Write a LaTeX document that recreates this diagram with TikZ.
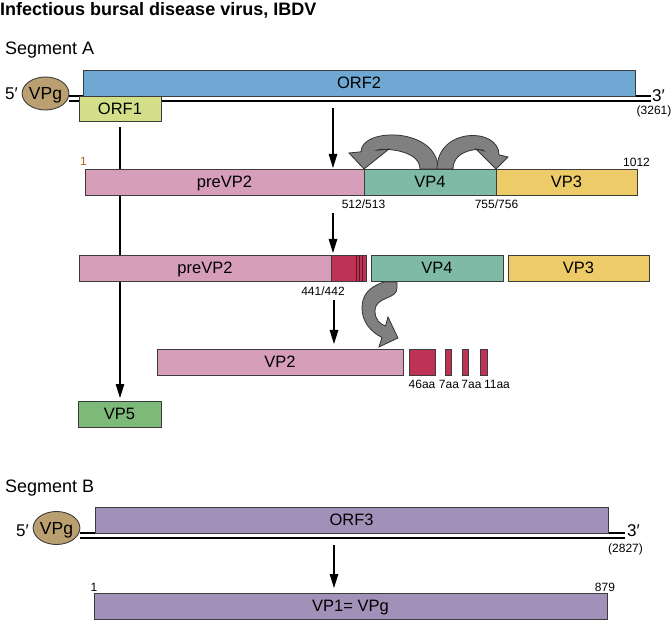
\documentclass[tikz,border=0pt]{standalone}
\usepackage{fontspec}
\setmainfont{Liberation Sans}
\usetikzlibrary{arrows.meta,shapes.geometric}
\definecolor{cOrfTwo}{HTML}{6FA8D2}
\definecolor{cOrfOne}{HTML}{D4DF8A}
\definecolor{cPink}{HTML}{D69EB9}
\definecolor{cTeal}{HTML}{7EBAA6}
\definecolor{cYellow}{HTML}{ECCB68}
\definecolor{cRed}{HTML}{BE3255}
\definecolor{cDarkRed}{HTML}{5A1426}
\definecolor{cGreen}{HTML}{7DB978}
\definecolor{cPurple}{HTML}{A191B8}
\definecolor{cTan}{HTML}{BAA070}
\definecolor{cEdge}{HTML}{3C3C3C}
\definecolor{cFat}{HTML}{808080}
\definecolor{cFatEdge}{HTML}{333333}
\definecolor{cOrange}{HTML}{B8650F}
\begin{document}
\begin{tikzpicture}[x=1pt,y=-1pt,
  box/.style={draw=cEdge, line width=0.9pt, inner sep=0pt, outer sep=0pt, anchor=north west,
    font=\fontsize{16.5}{18}\selectfont, text height=11.8pt, text depth=0pt},
  vpg/.style={ellipse, draw=cEdge, line width=0.9pt, fill=cTan, inner sep=0pt, outer sep=0pt,
    minimum width=41pt, minimum height=33pt, font=\fontsize{17.5}{19}\selectfont,
    text height=12.5pt, text depth=0pt},
  small/.style={inner sep=0pt, font=\fontsize{12}{14}\selectfont, anchor=base},
  prime/.style={inner sep=0pt, font=\fontsize{17}{19}\selectfont, anchor=base west},
  head/.style={inner sep=0pt, font=\fontsize{18}{20}\selectfont, anchor=base west},
  arr/.style={draw=black, line width=1.1pt, -{Triangle[length=14pt,width=8.5pt]}},
  rna/.style={draw=black, line width=2pt},
  fat/.style={draw=cFatEdge, line width=0.8pt, fill=cFat, line join=miter},
  stripe/.style={draw=cDarkRed, line width=0.9pt},
]
\useasboundingbox (0,0) rectangle (672,620);

% headings
\node[head, font=\bfseries\fontsize{18}{20}\selectfont] (title) at (0,16) {Infectious bursal disease virus, IBDV};
\node[head] (segA) at (5,55) {Segment A};
\node[head] (segB) at (5,492) {Segment B};

% ---------- Segment A ----------
\node[prime] (fiveA) at (5,100) {5′};
\node[vpg] (vpgA) at (45.5,93.5) {VPg};
\coordinate (endA1) at (651,96);
\coordinate (endA2) at (651,101);
\draw[rna] (vpgA.east |- endA1) -- (endA1);
\draw[rna] (vpgA.east |- endA2) -- (endA2);
\node[prime] (threeA) at (652,102) {3′};
\node[small] (lenA) at (654,115) {(3261)};

\node[box, fill=cOrfTwo, minimum width=552pt, minimum height=26pt] (orf2) at (83,70) {ORF2};
\node[box, fill=cOrfOne, minimum width=82pt, minimum height=25pt] (orf1) at (79,96) {ORF1};

\node[box, fill=cGreen, minimum width=83pt, minimum height=26pt] (vp5) at (78,401) {VP5};
\draw[arr, shorten <=6pt, shorten >=3pt] (orf1.south) -- (orf1.south |- vp5.north);

% row 2 (polyprotein)
\node[box, fill=cPink, minimum width=279pt, minimum height=26pt] (prevpA) at (85,169) {preVP2};
\node[box, fill=cTeal, minimum width=132pt, minimum height=26pt] (vpfourA) at (364,169) {VP4};
\node[box, fill=cYellow, minimum width=141pt, minimum height=26pt] (vpthreeA) at (496,169) {VP3};
\node[small, text=cOrange] (oneA) at (83.5,166) {1};
\node[small] (endnA) at (636.5,167) {1012};
\node[small] (cutA) at (363.5,209) {512/513};
\node[small] (cutB) at (496.5,209) {755/756};

\coordinate (cA) at (333,96);
\draw[arr, shorten <=12pt, shorten >=1pt] (cA) -- (cA |- prevpA.north);

% self-cleavage arrows of VP4
\draw[fat] (438,169) .. controls (438,127) and (361,127) .. (361,151.8)
  -- (349,153) -- (364,169) -- (389,149) -- (377,150.3)
  .. controls (377,148) and (420,148) .. (420,169) -- cycle;
\draw[fat] (437,169) .. controls (437,127) and (499,127) .. (499,154.8)
  -- (508,157) -- (496,169) -- (476,149) -- (484,150.9)
  .. controls (484,148) and (453,148) .. (453,169) -- cycle;

% row 3
\node[box, fill=cPink, minimum width=252pt, minimum height=26pt] (prevpB) at (79,255) {preVP2};
\node[box, fill=cRed, minimum width=35pt, minimum height=26pt] (redb) at (331,255) {};
\foreach \s in {25.5,28.5,31.5}
  \draw[stripe] ([xshift=\s pt]redb.north west) -- ([xshift=\s pt]redb.south west);
\node[box, fill=cTeal, minimum width=132pt, minimum height=26pt] (vpfourB) at (371,255) {VP4};
\node[box, fill=cYellow, minimum width=141pt, minimum height=26pt] (vpthreeB) at (508,255) {VP3};
\node[small] (cutC) at (323,296) {441/442};
\draw[arr, shorten <=18pt, shorten >=2pt] (cA |- prevpA.south) -- (cA |- prevpB.north);

% row 4
\node[box, fill=cPink, minimum width=246pt, minimum height=26pt] (vp2) at (157,349) {VP2};
\node[box, fill=cRed, minimum width=26pt, minimum height=26pt] (pa) at (409,349) {};
\node[box, fill=cRed, minimum width=6pt, minimum height=26pt] (pb) at (445,349) {};
\node[box, fill=cRed, minimum width=6pt, minimum height=26pt] (pc) at (462,349) {};
\node[box, fill=cRed, minimum width=7pt, minimum height=26pt] (pd) at (480,349) {};
\node[small] (la) at (422,388) {46aa};
\node[small] (lb) at (449,388) {7aa};
\node[small] (lc) at (471.5,388) {7aa};
\node[small] (ld) at (497,388) {11aa};
\coordinate (cA3) at (334,281);
\draw[arr, shorten <=19pt, shorten >=5pt] (cA3) -- (cA3 |- vp2.north);

% VP4 trans-cleavage arrow
\draw[fat] (384,282) -- (397,282) -- (397,288)
  .. controls (397,300) and (375,296) .. (375,311)
  .. controls (375,320) and (380,324) .. (385.5,326)
  -- (388,317) -- (398,338) -- (379,347) -- (382,337.5)
  .. controls (371,332) and (362,322) .. (362,308)
  .. controls (362,295) and (369,287) .. (384,282) -- cycle;

% ---------- Segment B ----------
\node[prime] (fiveB) at (16,536) {5′};
\node[vpg] (vpgB) at (56.5,528) {VPg};
\coordinate (endB1) at (625,533);
\coordinate (endB2) at (625,538);
\draw[rna] (vpgB.east |- endB1) -- (endB1);
\draw[rna] (vpgB.east |- endB2) -- (endB2);
\node[prime] (threeB) at (627,536) {3′};
\node[small] (lenB) at (625.5,552) {(2827)};
\node[box, fill=cPurple, minimum width=513pt, minimum height=26pt] (orf3) at (95,507) {ORF3};
\node[box, fill=cPurple, minimum width=513pt, minimum height=26pt] (vp1) at (94,593) {VP1= VPg};
\node[small] (oneB) at (94,591) {1};
\node[small] (endnB) at (605,591) {879};
\coordinate (cB) at (334,533);
\draw[arr, shorten <=12pt, shorten >=5pt] (cB) -- (cB |- vp1.north);
\end{tikzpicture}
\end{document}
